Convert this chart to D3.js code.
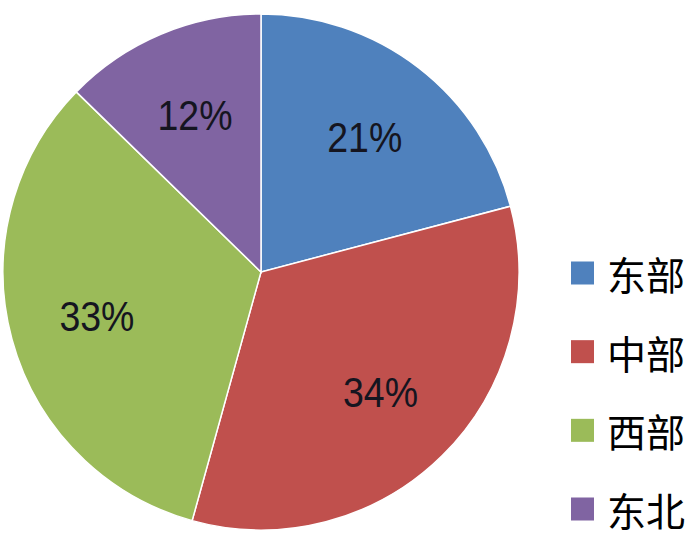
<!DOCTYPE html>
<html><head><meta charset="utf-8">
<script src="https://cdn.jsdelivr.net/npm/d3@7"></script>
<style>html,body{margin:0;padding:0;background:#fff;}</style>
</head><body>
<svg id="chart" width="700" height="548"></svg>
<script>
const categories = ["东部", "中部", "西部", "东北"];
const values = [20.9, 33.4, 33.0, 12.7];
const labels = ["21%", "34%", "33%", "12%"];
const colors = ["#4F81BD", "#C0504D", "#9BBB59", "#8064A2"];

const svg = d3.select("#chart");
const cx = 261, cy = 272, R = 258;
const data = categories.map((c, i) => ({cat: c, value: values[i], label: labels[i], color: colors[i]}));

const pie = d3.pie().value(d => d.value).sort(null);
const arc = d3.arc().innerRadius(0).outerRadius(R);
const labelArc = d3.arc().innerRadius(170).outerRadius(170);

const g = svg.append("g").attr("transform", `translate(${cx},${cy})`);
const arcs = pie(data);
g.selectAll("path").data(arcs).join("path")
  .attr("d", arc)
  .attr("fill", d => d.data.color)
  .attr("stroke", "#fff")
  .attr("stroke-width", 1.5);

g.selectAll("text").data(arcs).join("text")
  .attr("transform", d => `translate(${labelArc.centroid(d)})`)
  .attr("text-anchor", "middle")
  .attr("dominant-baseline", "central")
  .attr("font-family", "Liberation Sans, Arial, sans-serif")
  .attr("font-size", 42)
  .attr("textLength", 75)
  .attr("lengthAdjust", "spacingAndGlyphs")
  .attr("fill", "#151520")
  .text(d => d.data.label);

const legend = svg.append("g");
const ly = d3.scalePoint().domain(categories).range([273, 509]);
const items = legend.selectAll("g").data(data).join("g")
  .attr("transform", d => `translate(571,${ly(d.cat)})`);
items.append("rect")
  .attr("x", 0).attr("y", -11.5).attr("width", 23).attr("height", 23)
  .attr("fill", d => d.color);
items.append("text")
  .attr("x", 36).attr("y", 0)
  .attr("dominant-baseline", "central")
  .attr("font-family", "Noto Sans CJK SC, sans-serif")
  .attr("font-size", 39)
  .attr("fill", "#000")
  .text(d => d.cat);
</script>
</body></html>
